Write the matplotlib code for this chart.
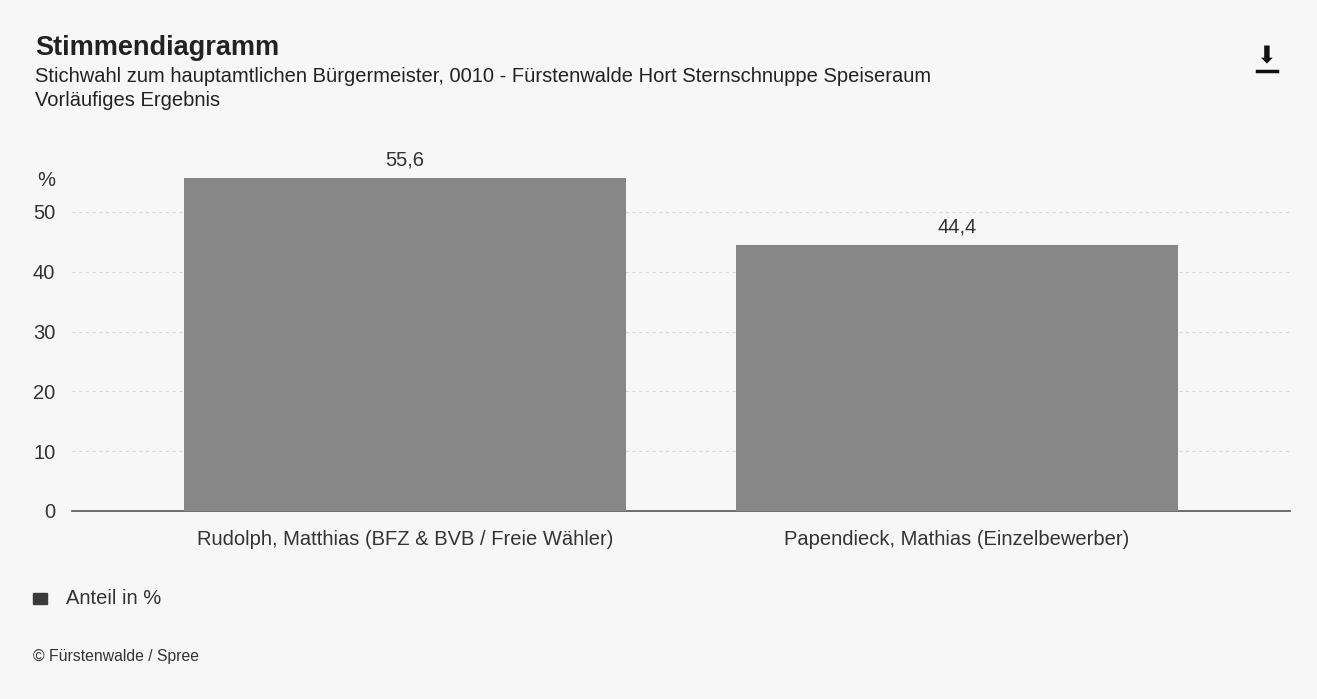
import matplotlib.pyplot as plt

plt.rcParams['font.family'] = ['Liberation Sans', 'DejaVu Sans']

# data
candidates = ['Rudolph, Matthias (BFZ & BVB / Freie Wähler)',
              'Papendieck, Mathias (Einzelbewerber)']
shares = [55.6, 44.4]
yticks = [0, 10, 20, 30, 40, 50]

bg = '#f7f7f7'
txt = '#333333'
fig = plt.figure(figsize=(13.17, 6.99), dpi=100, facecolor=bg)
W, H = 1317, 699

# axes placed in pixel coords: x 72..1290, y (top) 152..511
ax = fig.add_axes([72 / W, 1 - 511 / H, (1290 - 72) / W, (511 - 152) / H])
ax.set_facecolor(bg)

x = range(len(candidates))
bars = ax.bar(x, shares, width=0.8, color='#878787', zorder=3)
for b, v in zip(bars, shares):
    ax.text(b.get_x() + b.get_width() / 2, v + 1.4, f'{v:.1f}'.replace('.', ','),
            ha='center', va='bottom', fontsize=14.5, color=txt)

ax.set_xlim(-0.603, 1.603)
ax.set_ylim(0, 60)
ax.set_yticks(yticks)
ax.set_yticklabels([str(t) for t in yticks], fontsize=14.5, color=txt)
ax.set_xticks(list(x))
ax.set_xticklabels(candidates, fontsize=14.5, color=txt)
ax.tick_params(axis='y', length=0, pad=12)
ax.tick_params(axis='x', length=0, pad=14)
ax.grid(axis='y', linestyle=(0, (3, 3)), color='#d9d9d9', linewidth=0.8, zorder=0)
for s in ['top', 'right', 'left']:
    ax.spines[s].set_visible(False)
ax.spines['bottom'].set_color('#555555')
ax.spines['bottom'].set_linewidth(1.2)

# "%" unit label above the y ticks
fig.text(55 / W, 1 - 181 / H, '%', ha='right', va='center', fontsize=14.5, color=txt)

# titles
fig.text(35 / W, 1 - 48 / H, 'Stimmendiagramm', fontsize=19.5, fontweight='bold',
         color='#222222', va='center')
fig.text(35 / W, 1 - 77 / H,
         'Stichwahl zum hauptamtlichen Bürgermeister, 0010 - Fürstenwalde Hort Sternschnuppe Speiseraum',
         fontsize=14.5, color='#222222', va='center')
fig.text(35 / W, 1 - 101 / H, 'Vorläufiges Ergebnis', fontsize=14.5, color='#222222', va='center')

# download icon
fig.text(1267 / W, 1 - 56 / H, '\u2b07', fontsize=17, ha='center', va='center',
         color='#111111', family=['DejaVu Sans'])
fig.add_artist(plt.Line2D([1257 / W, 1277 / W], [1 - 71 / H, 1 - 71 / H],
                          color='#111111', linewidth=2.5))

# legend
fig.add_artist(plt.Rectangle((33 / W, 1 - 604 / H), 14 / W, 11 / H,
                             color='#3a3a3a', transform=fig.transFigure))
fig.text(66 / W, 1 - 599 / H, 'Anteil in %', fontsize=14.5, color=txt, va='center')

fig.text(33 / W, 1 - 657 / H, '© Fürstenwalde / Spree', fontsize=11.3, color=txt, va='center')

fig.savefig('out.png', dpi=100, facecolor=bg)
